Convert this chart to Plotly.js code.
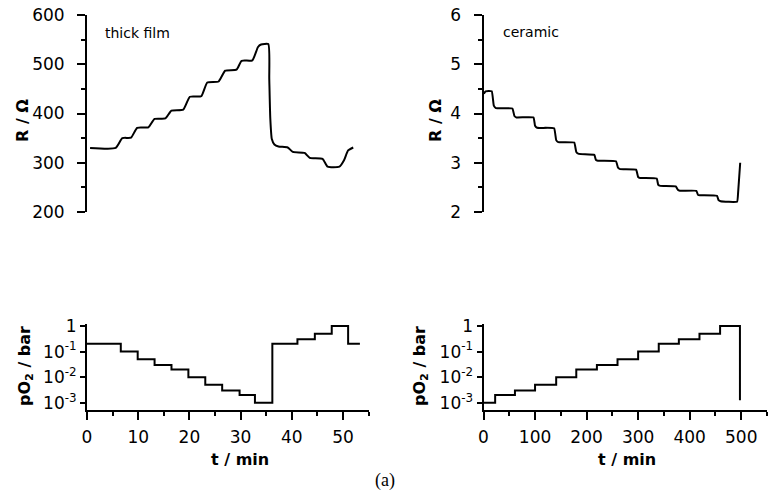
<!DOCTYPE html>
<html>
<head>
<meta charset="utf-8">
<script src="https://cdn.plot.ly/plotly-3.0.1.min.js"></script>
<style>html,body{margin:0;padding:0;background:#fff;}#chart{width:771px;height:495px;}</style>
</head>
<body>
<div id="chart"></div>
<script>
// ---- thick film: resistance vs time (min) ----
const tfTime = [0.6, 5.6, 6.9, 8.6, 9.8, 12.0, 13.2, 15.3, 16.5, 18.8, 20.1, 22.3, 23.5, 25.7, 27.0, 29.2, 30.2, 32.3, 33.4, 34.0, 35.4, 35.6, 35.8, 36.1, 36.6, 37.4, 39.2, 40.2, 42.5, 43.5, 46.0, 47.0, 49.3, 50.2, 51.0, 52.0];
const tfR    = [330, 330, 350, 351, 371, 372, 389, 390, 406, 408, 434, 435, 463, 465, 487, 489, 507, 508, 535, 540, 541, 470, 390, 348, 337, 333, 331, 322, 320, 310, 308, 292, 292, 305, 325, 331];
// ---- thick film: pO2 steps ----
const tfStepTime = [0, 6.6, 9.9, 13.2, 16.5, 19.8, 23.1, 26.4, 29.8, 32.8, 36.2, 41.1, 44.5, 47.8, 51.0, 53.3];
const tfPO2      = [0.2, 0.1, 0.05, 0.03, 0.02, 0.01, 0.005, 0.003, 0.002, 0.001, 0.2, 0.3, 0.5, 1, 0.2, 0.2];
// ---- ceramic: resistance vs time (min) ----
const ceTime = [0.8, 4, 16, 20, 24, 56, 60, 64, 97, 100, 104, 137, 141, 145, 176, 180, 185, 215, 218, 222, 257, 261, 265, 296, 300, 304, 336, 339, 343, 373, 377, 381, 413, 416, 420, 453, 456, 460, 492, 494, 498];
const ceR    = [4.40, 4.45, 4.45, 4.16, 4.11, 4.10, 3.95, 3.92, 3.92, 3.75, 3.71, 3.70, 3.46, 3.42, 3.41, 3.22, 3.18, 3.16, 3.06, 3.04, 3.03, 2.90, 2.87, 2.86, 2.71, 2.69, 2.68, 2.55, 2.53, 2.52, 2.45, 2.43, 2.43, 2.35, 2.34, 2.33, 2.24, 2.22, 2.21, 2.40, 3.00];
// ---- ceramic: pO2 steps ----
const ceStepTime = [0, 22.6, 61, 100, 141, 180, 220, 260, 300, 340, 379, 419, 459, 497.5];
const cePO2      = [0.001, 0.002, 0.003, 0.005, 0.01, 0.02, 0.03, 0.05, 0.1, 0.2, 0.3, 0.5, 1, 0.00125];
// ---- tick labels ----
const logTickVals = [0.001, 0.01, 0.1, 1];
const logTickText = ['10<sup>-3</sup>', '10<sup>-2</sup>', '10<sup>-1</sup>', '1'];
const logMinorTicks = [];
[0.001, 0.01, 0.1].forEach(d => { for (let m = 2; m <= 9; m++) logMinorTicks.push(d * m); });

const W = 771, H = 495;
const px = v => v / W, py = v => 1 - v / H;
const FONT = 'DejaVu Sans, Arial, sans-serif';
const lineStyle = {color: '#000', width: 2};

const traces = [
  {x: tfStepTime, y: tfPO2, xaxis: 'x', yaxis: 'y', mode: 'lines', line: Object.assign({shape: 'hv'}, lineStyle)},
  {x: ceStepTime, y: cePO2, xaxis: 'x2', yaxis: 'y2', mode: 'lines', line: Object.assign({shape: 'hv'}, lineStyle)},
  {x: tfTime, y: tfR, xaxis: 'x3', yaxis: 'y3', mode: 'lines', line: Object.assign({shape: 'spline', smoothing: 0.5}, lineStyle)},
  {x: ceTime, y: ceR, xaxis: 'x4', yaxis: 'y4', mode: 'lines', line: Object.assign({shape: 'spline', smoothing: 0.3}, lineStyle)}
];

const leftDom = [px(87), px(368.6)];
const rightDom = [px(483.5), px(767)];
const botDom = [py(410), py(324)];
const topDom = [py(212), py(15)];
const TICKSIZE = 17;
const LOGRANGE = [-3.285, 0.078];

function xBottom(dom, anchor, range, dtick, mdtick) {
  return {domain: dom, anchor: anchor, range: range, showline: true, linewidth: 2, linecolor: '#000',
    ticks: 'outside', ticklen: 8, tickwidth: 2, tickcolor: '#000', dtick: dtick, tick0: 0,
    minor: {ticks: 'outside', ticklen: 4, tickwidth: 2, tickcolor: '#000', dtick: mdtick, tick0: 0},
    showgrid: false, zeroline: false, tickfont: {family: FONT, size: TICKSIZE, color: '#000'}, ticklabelstandoff: 3};
}
function yLog(dom, anchor) {
  return {domain: dom, anchor: anchor, type: 'log', range: LOGRANGE, showline: true, linewidth: 2, linecolor: '#000',
    tickmode: 'array', tickvals: logTickVals, ticktext: logTickText,
    ticks: 'outside', ticklen: 5, tickwidth: 2, tickcolor: '#000',
    showgrid: false, zeroline: false, tickfont: {family: FONT, size: TICKSIZE, color: '#000'}, ticklabelstandoff: 0};
}
// extra overlaying axis that only draws the small inside log ticks
function yLogMinor(dom, anchor, over) {
  return {domain: dom, anchor: anchor, overlaying: over, side: 'left', type: 'log', range: LOGRANGE,
    showline: false, tickmode: 'array', tickvals: logMinorTicks, showticklabels: false,
    ticks: 'inside', ticklen: 4, tickwidth: 1.5, tickcolor: '#000', showgrid: false, zeroline: false};
}
function yLin(dom, anchor, range, dtick, mdtick) {
  return {domain: dom, anchor: anchor, range: range, showline: true, linewidth: 2, linecolor: '#000',
    ticks: 'outside', ticklen: 8, tickwidth: 2, tickcolor: '#000', dtick: dtick, tick0: 0,
    minor: {ticks: 'outside', ticklen: 4, tickwidth: 2, tickcolor: '#000', dtick: mdtick, tick0: 0},
    showgrid: false, zeroline: false, tickfont: {family: FONT, size: TICKSIZE, color: '#000'}, ticklabelstandoff: 9};
}
function xHidden(dom, anchor, range) {
  return {domain: dom, anchor: anchor, range: range, visible: false, showgrid: false, zeroline: false};
}

function ann(text, x, y, opts) {
  return Object.assign({text: text, xref: 'paper', yref: 'paper', x: px(x), y: py(y), showarrow: false,
    xanchor: 'center', yanchor: 'middle', font: {family: FONT, size: 15, color: '#000'}}, opts || {});
}
const boldFont = s => ({family: 'DejaVu Sans, Arial, sans-serif', size: s, color: '#000', weight: 'bold'});

const layout = {
  width: W, height: H, autosize: false, showlegend: false,
  margin: {l: 0, r: 0, t: 0, b: 0}, paper_bgcolor: '#fff', plot_bgcolor: '#fff',
  xaxis: xBottom(leftDom, 'y', [0, 55], 10, 5),
  yaxis: yLog(botDom, 'x'),
  xaxis2: xBottom(rightDom, 'y2', [0, 550], 100, 50),
  yaxis2: yLog(botDom, 'x2'),
  xaxis3: xHidden(leftDom, 'y3', [0, 55]),
  yaxis3: yLin(topDom, 'x3', [200, 600], 100, 50),
  xaxis4: xHidden(rightDom, 'y4', [0, 550]),
  yaxis4: yLin(topDom, 'x4', [2, 6], 1, 0.5),
  yaxis5: yLogMinor(botDom, 'x', 'y'),
  yaxis6: yLogMinor(botDom, 'x2', 'y2'),
  annotations: [
    ann('<b>R / Ω</b>', 22, 121, {textangle: -90, font: boldFont(16)}),
    ann('<b>R / Ω</b>', 435, 121, {textangle: -90, font: boldFont(16)}),
    ann('<b>pO<sub>2</sub> / bar</b>', 25, 366, {textangle: -90, font: boldFont(16)}),
    ann('<b>pO<sub>2</sub> / bar</b>', 420, 366, {textangle: -90, font: boldFont(16)}),
    ann('<b>t / min</b>', 240, 459, {font: boldFont(16)}),
    ann('<b>t / min</b>', 627, 459, {font: boldFont(16)}),
    ann('thick film', 103, 33, {xanchor: 'left', font: {family: FONT, size: 14, color: '#000'}}),
    ann('ceramic', 501, 32, {xanchor: 'left', font: {family: FONT, size: 14, color: '#000'}}),
    ann('(a)', 385, 480, {font: {family: 'Liberation Serif, Times New Roman, serif', size: 18, color: '#000'}})
  ]
};

Plotly.newPlot('chart', traces, layout, {staticPlot: true, displayModeBar: false});
</script>
</body>
</html>
